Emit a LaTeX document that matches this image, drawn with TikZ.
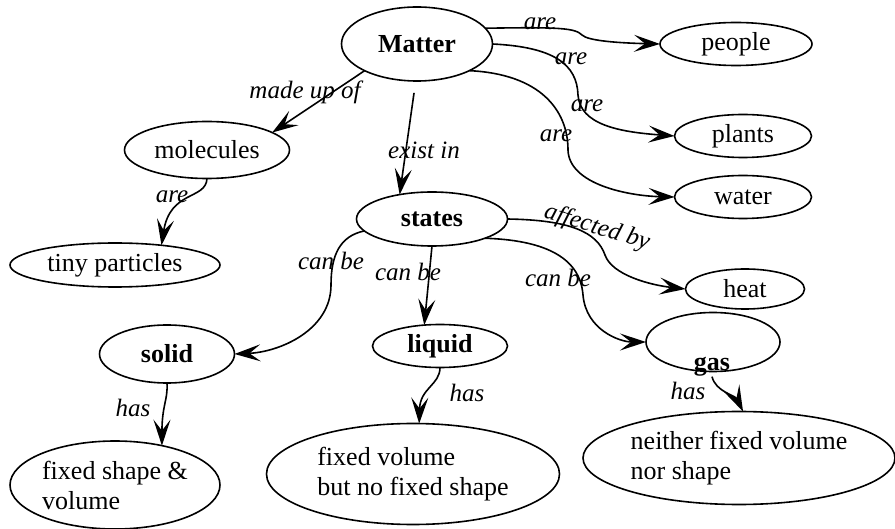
\documentclass[tikz,border=0pt]{standalone}
\usepackage{fontspec}
\setmainfont{Liberation Serif}
\usetikzlibrary{shapes.geometric}
\usetikzlibrary{arrows.meta}

\tikzset{
  concept/.style={shape=ellipse, draw, line width=1.6pt, inner sep=0pt, outer sep=0pt, font=\fontsize{26}{30}\selectfont},
  keyconcept/.style={concept, font=\fontsize{26}{30}\selectfont\bfseries},
  link/.style={font=\fontsize{25}{30}\selectfont\itshape, inner sep=0pt},
  arr/.style={line width=1.6pt, -{Stealth[length=26pt,width=17pt,inset=11pt]}}
}

\begin{document}
\begin{tikzpicture}[x=1pt, y=-1pt]
\useasboundingbox (0,0) rectangle (895,529);
\node[keyconcept, minimum width=151pt, minimum height=74pt] (Matter) at (417,44) {Matter};
\node[concept, minimum width=152pt, minimum height=43pt] (people) at (736,44) {people};
\node[concept, minimum width=137pt, minimum height=43pt] (plants) at (743,136) {plants};
\node[concept, minimum width=137pt, minimum height=43pt] (water) at (743,197) {water};
\node[concept, minimum width=165pt, minimum height=57pt] (molecules) at (207,150) {molecules};
\node[concept, minimum width=210pt, minimum height=44pt] (tiny) at (115,265) {tiny particles};
\node[keyconcept, minimum width=151pt, minimum height=54pt] (states) at (432,219) {states};
\node[concept, minimum width=119pt, minimum height=40pt] (heat) at (745,289) {heat};
\node[concept, minimum width=134pt, minimum height=59pt] (gas) at (713,342) {};
\node[font=\fontsize{26}{30}\selectfont\bfseries, inner sep=0pt] (gastext) at (712,367) {gas};
\node[keyconcept, minimum width=135pt, minimum height=58pt] (solid) at (167,354) {solid};
\node[keyconcept, minimum width=135pt, minimum height=43pt] (liquid) at (440,346) {liquid};
\node[concept, align=left, minimum width=210pt, minimum height=88pt] (fixedshape) at (115,485) {fixed shape \&\\volume};
\node[concept, align=left, minimum width=293pt, minimum height=101pt] (fixedvol) at (413,474) {fixed volume\\but no fixed shape};
\node[concept, align=left, minimum width=312pt, minimum height=93pt] (neither) at (739,458) {neither fixed volume\\nor shape};

\node[link] (lPeople) at (540,24) {are};
\node[link] (lPlantsA) at (571,59) {are};
\node[link] (lPlantsB) at (587,106) {are};
\node[link] (lWater) at (556,136) {are};
\node[link] (lMadeUp) at (305,92) {made up of};
\node[link] (lExist) at (424,150) {exist in};
\node[link] (lTiny) at (172,197) {are};
\node[link] (lSolid) at (331,261) {can be};
\node[link] (lLiquid) at (408,272) {can be};
\node[link] (lGas) at (558,278) {can be};
\node[link, rotate=-17] (lHeat) at (597,228) {affected by};
\node[link] (lHasS) at (133,408) {has};
\node[link] (lHasL) at (467,393) {has};
\node[link] (lHasG) at (688,391) {has};

\draw[arr] (Matter.13) .. controls (560,27) and (575,28) .. (582,35) .. controls (588,41) and (620,43) .. (people.west);
\draw[arr] (Matter.east) .. controls (555,47) and (577,65) .. (578,95) .. controls (580,125) and (620,132) .. (plants.west);
\draw[arr] (Matter.-27) .. controls (540,74) and (568,110) .. (568,150) .. controls (569,185) and (630,196) .. (water.west);
\draw[arr] (Matter.207) -- (molecules.15);
\draw[arr, shorten <=12pt] (Matter.-92) -- (states.143);
\draw[arr] (molecules.south) .. controls (206,200) and (170,190) .. (tiny.23);
\draw[arr] (states.190) .. controls (340,236) and (331,255) .. (331,285) .. controls (331,330) and (280,352) .. (solid.east);
\draw[arr] (states.south) -- (liquid.127);
\draw[arr] (states.-20) .. controls (540,240) and (580,255) .. (583,295) .. controls (586,330) and (620,342) .. (gas.west);
\draw[arr] (states.east) .. controls (570,220) and (597,232) .. (605,255) .. controls (612,275) and (650,285) .. (heat.west);
\draw[arr] (solid.south) .. controls (168,400) and (162,405) .. (fixedshape.40);
\draw[arr] (liquid.south) .. controls (440,385) and (420,388) .. (fixedvol.83);
\draw[arr] (gastext.south) .. controls (716,392) and (735,395) .. (neither.85);
\end{tikzpicture}
\end{document}
